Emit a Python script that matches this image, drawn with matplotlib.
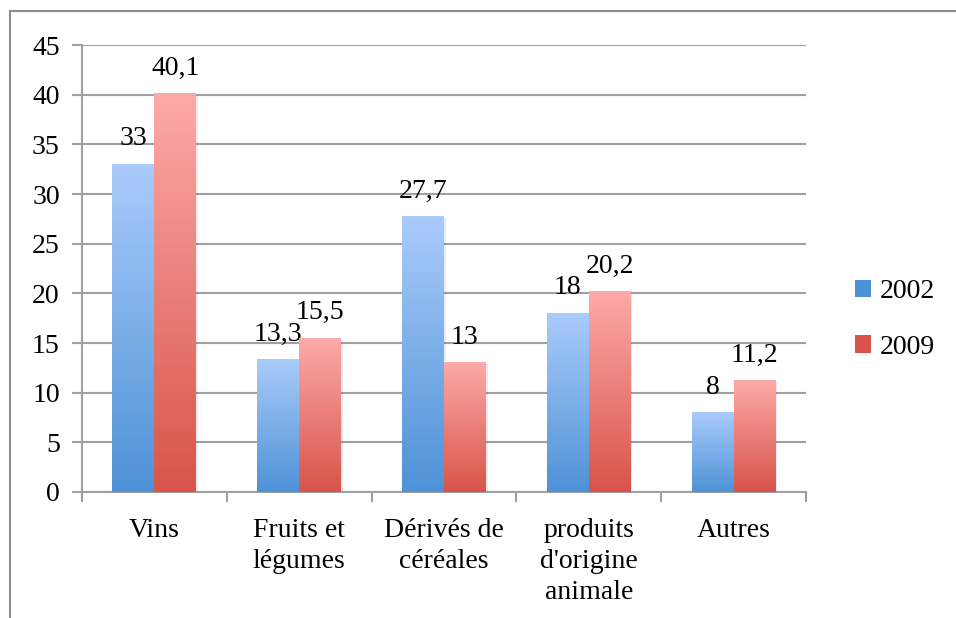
import numpy as np
import matplotlib.pyplot as plt
from matplotlib.colors import LinearSegmentedColormap
from matplotlib.patches import Rectangle

plt.rcParams['font.family'] = ['Liberation Serif', 'DejaVu Serif']

categories = ["Vins", "Fruits et\nlégumes", "Dérivés de\ncéréales",
              "produits\nd'origine\nanimale", "Autres"]
series_names = ["2002", "2009"]
values_2002 = [33, 13.3, 27.7, 18, 8]
values_2009 = [40.1, 15.5, 13, 20.2, 11.2]
yticks = [0, 5, 10, 15, 20, 25, 30, 35, 40, 45]

# gradient colours (top, bottom)
blue = ("#aacbfb", "#4e92d6")
red = ("#fdaaa8", "#d8544a")

FS = 20

fig = plt.figure(figsize=(9.56, 6.18), dpi=100)
ax = fig.add_axes([0.0858, 0.2039, 0.843 - 0.0858, 0.927 - 0.2039])

grid_col = "#a0a0a0"
x = np.arange(len(categories))
w = 0.29


def fmt(v):
    s = f"{v:g}"
    return s.replace(".", ",")


def gradient_bars(xpos, vals, cols):
    cmap = LinearSegmentedColormap.from_list("g", [cols[1], cols[0]])
    grad = np.linspace(0, 1, 256).reshape(-1, 1)
    bars = ax.bar(xpos, vals, w, color="none", edgecolor="none", zorder=3)
    for b, v in zip(bars, vals):
        x0 = b.get_x()
        # faint shadow
        ax.add_patch(Rectangle((x0 + 0.012, 0), w, v - 0.15, facecolor="#000000",
                               alpha=0.08, edgecolor="none", zorder=2.5))
        ax.imshow(grad, extent=[x0, x0 + w, 0, v], origin="lower", aspect="auto",
                  cmap=cmap, zorder=3)
        ax.text(x0 + w / 2, v + 1.3, fmt(v), ha="center", va="bottom", fontsize=FS)
    return bars


gradient_bars(x - w / 2, values_2002, blue)
gradient_bars(x + w / 2, values_2009, red)

ax.set_xlim(-0.5, len(categories) - 0.5)
ax.set_ylim(0, 45)
ax.set_yticks(yticks)
ax.set_yticklabels([str(t) for t in yticks], fontsize=FS)
ax.yaxis.grid(True, color=grid_col, linewidth=1.5, zorder=0)
ax.set_axisbelow(True)

ax.set_xticks(np.arange(-0.5, len(categories)), minor=False)
ax.set_xticklabels([])
ax.set_xticks(x, minor=True)
ax.set_xticklabels(categories, minor=True, fontsize=FS, linespacing=1.3, va="top")
ax.tick_params(axis="x", which="minor", length=0, pad=19)
ax.tick_params(axis="x", which="major", length=7, width=1.5, color=grid_col)
ax.tick_params(axis="y", length=7, width=1.5, color=grid_col, pad=9)

for s in ["top", "right"]:
    ax.spines[s].set_visible(False)
for s in ["left", "bottom"]:
    ax.spines[s].set_color(grid_col)
    ax.spines[s].set_linewidth(1.5)

# legend
handles = [Rectangle((0, 0), 1, 1, facecolor=c[1], edgecolor="none") for c in (blue, red)]
fig.legend(handles, series_names, loc="center left", bbox_to_anchor=(0.894, 0.483),
           frameon=False, fontsize=FS, handlelength=0.6, handleheight=0.6,
           handletextpad=0.3, labelspacing=1.1, borderpad=0, borderaxespad=0)

# chart border (cropped at right and bottom)
fig.patches.append(Rectangle((10 / 956, -0.1), 2, 1 - 11 / 618 + 0.1, transform=fig.transFigure,
                             facecolor="none", edgecolor="#8c8c8c", linewidth=1.5))

fig.savefig("out.png", dpi=100)
